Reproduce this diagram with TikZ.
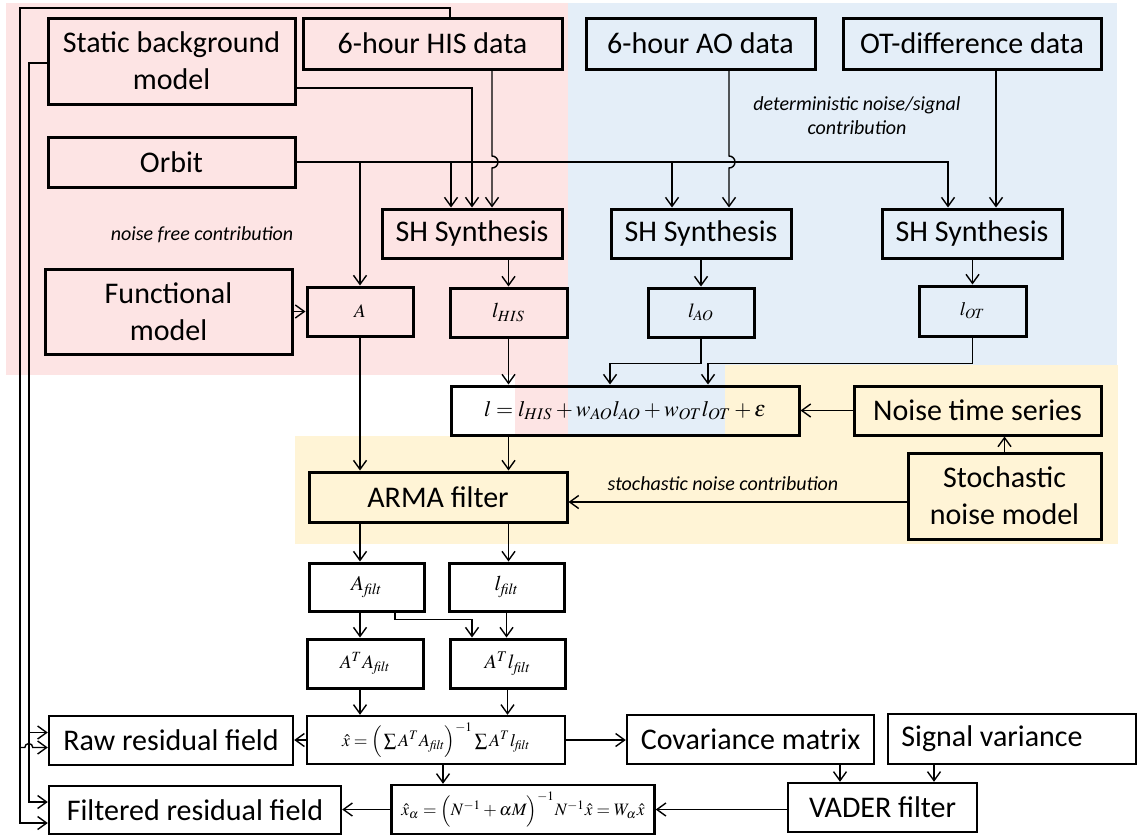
\documentclass[tikz,border=0pt]{standalone}
\usepackage{mathptmx}
\usepackage[no-math]{fontspec}
\setmainfont{Carlito}
\usetikzlibrary{arrows.meta,calc}
\definecolor{pinkbg}{RGB}{253,228,228}
\definecolor{bluebg}{RGB}{228,238,248}
\definecolor{yellowbg}{RGB}{255,244,214}
\begin{document}
\begin{tikzpicture}[x=0.5pt,y=-0.5pt,
  box/.style={draw, line width=1.5pt, inner sep=0pt, align=center, font=\fontsize{15}{18.5}\selectfont},
  thinbox/.style={box, line width=1.2pt},
  con/.style={line width=0.7pt},
  arr/.style={con, -{Straight Barb[length=4.5pt,width=6.5pt]}},
  lbl/.style={font=\fontsize{10}{12}\selectfont\itshape, align=center, inner sep=0pt}
]
\useasboundingbox (0,0) rectangle (1144,836);
% backgrounds
\fill[pinkbg] (6,3) rectangle (568,375);
\fill[pinkbg] (515,375) rectangle (568,435);
\fill[bluebg] (568,3) rectangle (1117,365);
\fill[bluebg] (568,365) rectangle (725,435);
\fill[yellowbg] (725,365) rectangle (1118,436);
\fill[yellowbg] (295,436) rectangle (1118,544);

% nodes
\node[box, minimum width=123.5pt, minimum height=43pt] (static) at (171.5,61) {Static background\\model};
\node[box, minimum width=129.5pt, minimum height=25.5pt] (his) at (432.5,43.5) {6-hour HIS data};
\node[box, minimum width=114.5pt, minimum height=25.5pt] (ao) at (700.5,43.5) {6-hour AO data};
\node[box, minimum width=129pt, minimum height=25.5pt] (ot) at (972,43.5) {OT-difference data};
\node[box, minimum width=123.5pt, minimum height=25pt] (orbit) at (171.5,162) {Orbit};
\node[box, minimum width=123.5pt, minimum height=42.5pt] (func) at (168.5,311.5) {Functional\\model};
\node[box, minimum width=53pt, minimum height=24.5pt, font=\fontsize{9.5}{11}\selectfont] (A) at (360,311.5) {$A$};
\node[box, minimum width=90pt, minimum height=24.5pt] (sh1) at (472,233.5) {SH Synthesis};
\node[box, minimum width=90pt, minimum height=24.5pt] (sh2) at (701,233.5) {SH Synthesis};
\node[box, minimum width=90pt, minimum height=24.5pt] (sh3) at (972,233.5) {SH Synthesis};
\node[box, minimum width=58.5pt, minimum height=24.5pt, font=\fontsize{10.5}{12}\selectfont] (lhis) at (508.5,312.5) {$l_{HIS}$};
\node[box, minimum width=53pt, minimum height=24.5pt, font=\fontsize{10}{11}\selectfont] (lao) at (701,312.5) {$l_{AO}$};
\node[box, minimum width=53.5pt, minimum height=25pt, font=\fontsize{9.5}{10}\selectfont] (lot) at (972.5,311) {$l_{OT}$};
\node[box, minimum width=174pt, minimum height=24.5pt, font=\fontsize{11}{13}\selectfont] (eq) at (625,410.5) {$l = l_{HIS} + w_{AO} l_{AO} + w_{OT} l_{OT} + \varepsilon$};
\node[box, minimum width=123.5pt, minimum height=24.5pt] (nts) at (977.5,410.5) {Noise time series};
\node[box, minimum width=96.5pt, minimum height=43pt] (stoch) at (1004.5,496) {Stochastic\\noise model};
\node[box, minimum width=129pt, minimum height=25pt] (arma) at (438,497) {ARMA filter};
\node[box, minimum width=57.5pt, minimum height=24pt, font=\fontsize{10.5}{12}\selectfont] (afilt) at (366.5,587) {$A_{\mathit{filt}}$};
\node[box, minimum width=57.5pt, minimum height=24pt, font=\fontsize{10.5}{12}\selectfont] (lfilt) at (506.5,587) {$l_{\mathit{filt}}$};
\node[box, minimum width=58pt, minimum height=24.5pt, font=\fontsize{9.5}{11}\selectfont] (ata) at (365,663.5) {$A^T A_{\mathit{filt}}$};
\node[box, minimum width=57.5pt, minimum height=24.5pt, font=\fontsize{10}{11}\selectfont] (atl) at (507.5,663.5) {$A^T l_{\mathit{filt}}$};
\node[thinbox, minimum width=129pt, minimum height=24pt, font=\fontsize{8.8}{10}\selectfont] (xhat) at (436,740) {$\hat{x} = \Big(\sum A^T A_{\mathit{filt}}\Big)^{-1} \sum A^T l_{\mathit{filt}}$};
\node[thinbox, minimum width=131.5pt, minimum height=24.5pt, font=\fontsize{8.7}{10}\selectfont] (xalpha) at (523,809.5) {$\hat{x}_\alpha = \Big(N^{-1} + \alpha M\Big)^{-1} N^{-1}\hat{x} = W_\alpha \hat{x}$};
\node[thinbox, minimum width=122pt, minimum height=24.5pt] (raw) at (171,740.5) {Raw residual field};
\node[thinbox, minimum width=146pt, minimum height=24pt] (filt) at (195,810) {Filtered residual field};
\node[thinbox, minimum width=123.5pt, minimum height=24.5pt] (cov) at (750.5,739.5) {Covariance matrix};
\node[thinbox, minimum width=124pt, minimum height=25pt] (sig) at (1012,739) {Signal variance\hspace*{20pt}};
\node[thinbox, minimum width=94.5pt, minimum height=24.5pt] (vader) at (882.5,807.5) {VADER filter};

% labels
\node[lbl] (lnf) at (202,235) {noise free contribution};
\node[lbl] (ldet) at (857,116) {deterministic noise/signal\\contribution};
\node[lbl] (lsto) at (723,484) {stochastic noise contribution};

% helper coordinates
\coordinate (s1a) at ($(sh1.north)+(-21,0)$);
\coordinate (s1c) at ($(sh1.north)+(20,0)$);
\coordinate (s2a) at ($(sh2.north)+(-29,0)$);
\coordinate (s2b) at ($(sh2.north)+(28,0)$);
\coordinate (s3a) at ($(sh3.north)+(-24,0)$);
\coordinate (s3b) at ($(sh3.north)+(24,0)$);

% orbit line
\draw[arr] (orbit.east) -| (s3a);
\draw[arr] (A.north |- orbit.east) -- (A.north);
\draw[arr] (s1a |- orbit.east) -- (s1a);
\draw[arr] (s2a |- orbit.east) -- (s2a);
% static -> sh1
\draw[arr] ($(static.east)+(0,27)$) -| (sh1.north);
% HIS -> sh1 with jump
\draw[arr] (s1c |- his.south) -- ($(s1c |- orbit.east)+(0,-6)$) arc[start angle=90, end angle=-90, radius=3pt] -- (s1c);
% AO -> sh2 with jump
\draw[arr] (s2b |- ao.south) -- ($(s2b |- orbit.east)+(0,-6)$) arc[start angle=90, end angle=-90, radius=3pt] -- (s2b);
% OT -> sh3
\draw[arr] (s3b |- ot.south) -- (s3b);

% SH -> l
\draw[arr] (lhis.north |- sh1.south) -- (lhis.north);
\draw[arr] (lao.north |- sh2.south) -- (lao.north);
\draw[arr] (lot.north |- sh3.south) -- (lot.north);

% functional -> A
\draw[arr] (func.east) -- (A.west);
% A -> ARMA
\draw[arr] (A.south) -- (A.south |- arma.north);
% l -> eq
\coordinate (e1) at ($(eq.north)+(-15,0)$);
\coordinate (e2) at ($(eq.north)+(83,0)$);
\draw[arr] (lhis.south) -- (lhis.south |- eq.north);
\draw[arr] (lao.south) |- ($(e1)+(0,-21)$) -- (e1);
\draw[arr] (lot.south) |- ($(e2)+(0,-21)$) -- (e2);
% noise
\draw[arr] (nts.west) -- (eq.east);
\draw[arr] (stoch.north) -- (stoch.north |- nts.south);
\coordinate (sw) at ($(stoch.west)+(0,6)$);
\draw[arr] (sw) -- (sw -| arma.east);
% eq -> ARMA
\draw[arr] (lhis.south |- eq.south) -- (lhis.south |- arma.north);
% ARMA -> filt
\draw[arr] (A.south |- arma.south) -- (A.south |- afilt.north);
\draw[arr] (lhis.south |- arma.south) -- (lhis.south |- lfilt.north);
% filt -> products
\draw[arr] (A.south |- afilt.south) -- (A.south |- ata.north);
\coordinate (af2) at ($(afilt.south)+(28.5,0)$);
\coordinate (at2) at ($(atl.north)+(-35.5,0)$);
\draw[arr] (af2) |- ($(at2)+(0,-18)$) -- (at2);
\draw[arr] (lfilt.south) -- (lfilt.south |- atl.north);
% products -> xhat
\draw[arr] (A.south |- ata.south) -- (A.south |- xhat.north);
\draw[arr] (atl.south) -- (atl.south |- xhat.north);
% xhat outputs
\draw[arr] (xhat.west) -- (raw.east |- xhat.west);
\draw[arr] (xhat.east) -- (cov.west |- xhat.east);
\coordinate (xa) at ($(xhat.south)+(7,0)$);
\draw[arr] (xa) -- (xa |- xalpha.north);
\draw[arr] (xalpha.west) -- (filt.east |- xalpha.west);
\draw[arr] (xalpha.east -| vader.west) -- (xalpha.east);
\coordinate (cv) at ($(cov.south)+(89.5,0)$);
\coordinate (sg) at ($(sig.south)+(-78,0)$);
\draw[arr] (cv) -- (cv |- vader.north);
\draw[arr] (sg) -- (sg |- vader.north);

% left feedback lines
\coordinate (hT) at ($(his.north)+(17.5,0)$);
\coordinate (fo) at ($(filt.west)+(0,13)$);
\coordinate (fi) at ($(filt.west)+(0,-8)$);
\coordinate (ro) at ($(raw.west)+(0,7)$);
\coordinate (ri) at ($(raw.west)+(0,-8)$);
\coordinate (jo) at ($(fo |- ro)+(-28,0)$);
\coordinate (ji) at ($(fi |- ri)+(-19,0)$);
\draw[arr] (hT) |- ($(fo)+(-28,-815)$) |- (fo);
\draw[arr] (jo) -- ($(jo)+(5,0)$) arc[start angle=180, end angle=0, radius=2pt] -- (ro);
\draw[arr] ($(static.west)+(0,2)$) -| ($(fi)+(-19,0)$) -- (fi);
\draw[arr] (ji) -- (ri);
\end{tikzpicture}
\end{document}
